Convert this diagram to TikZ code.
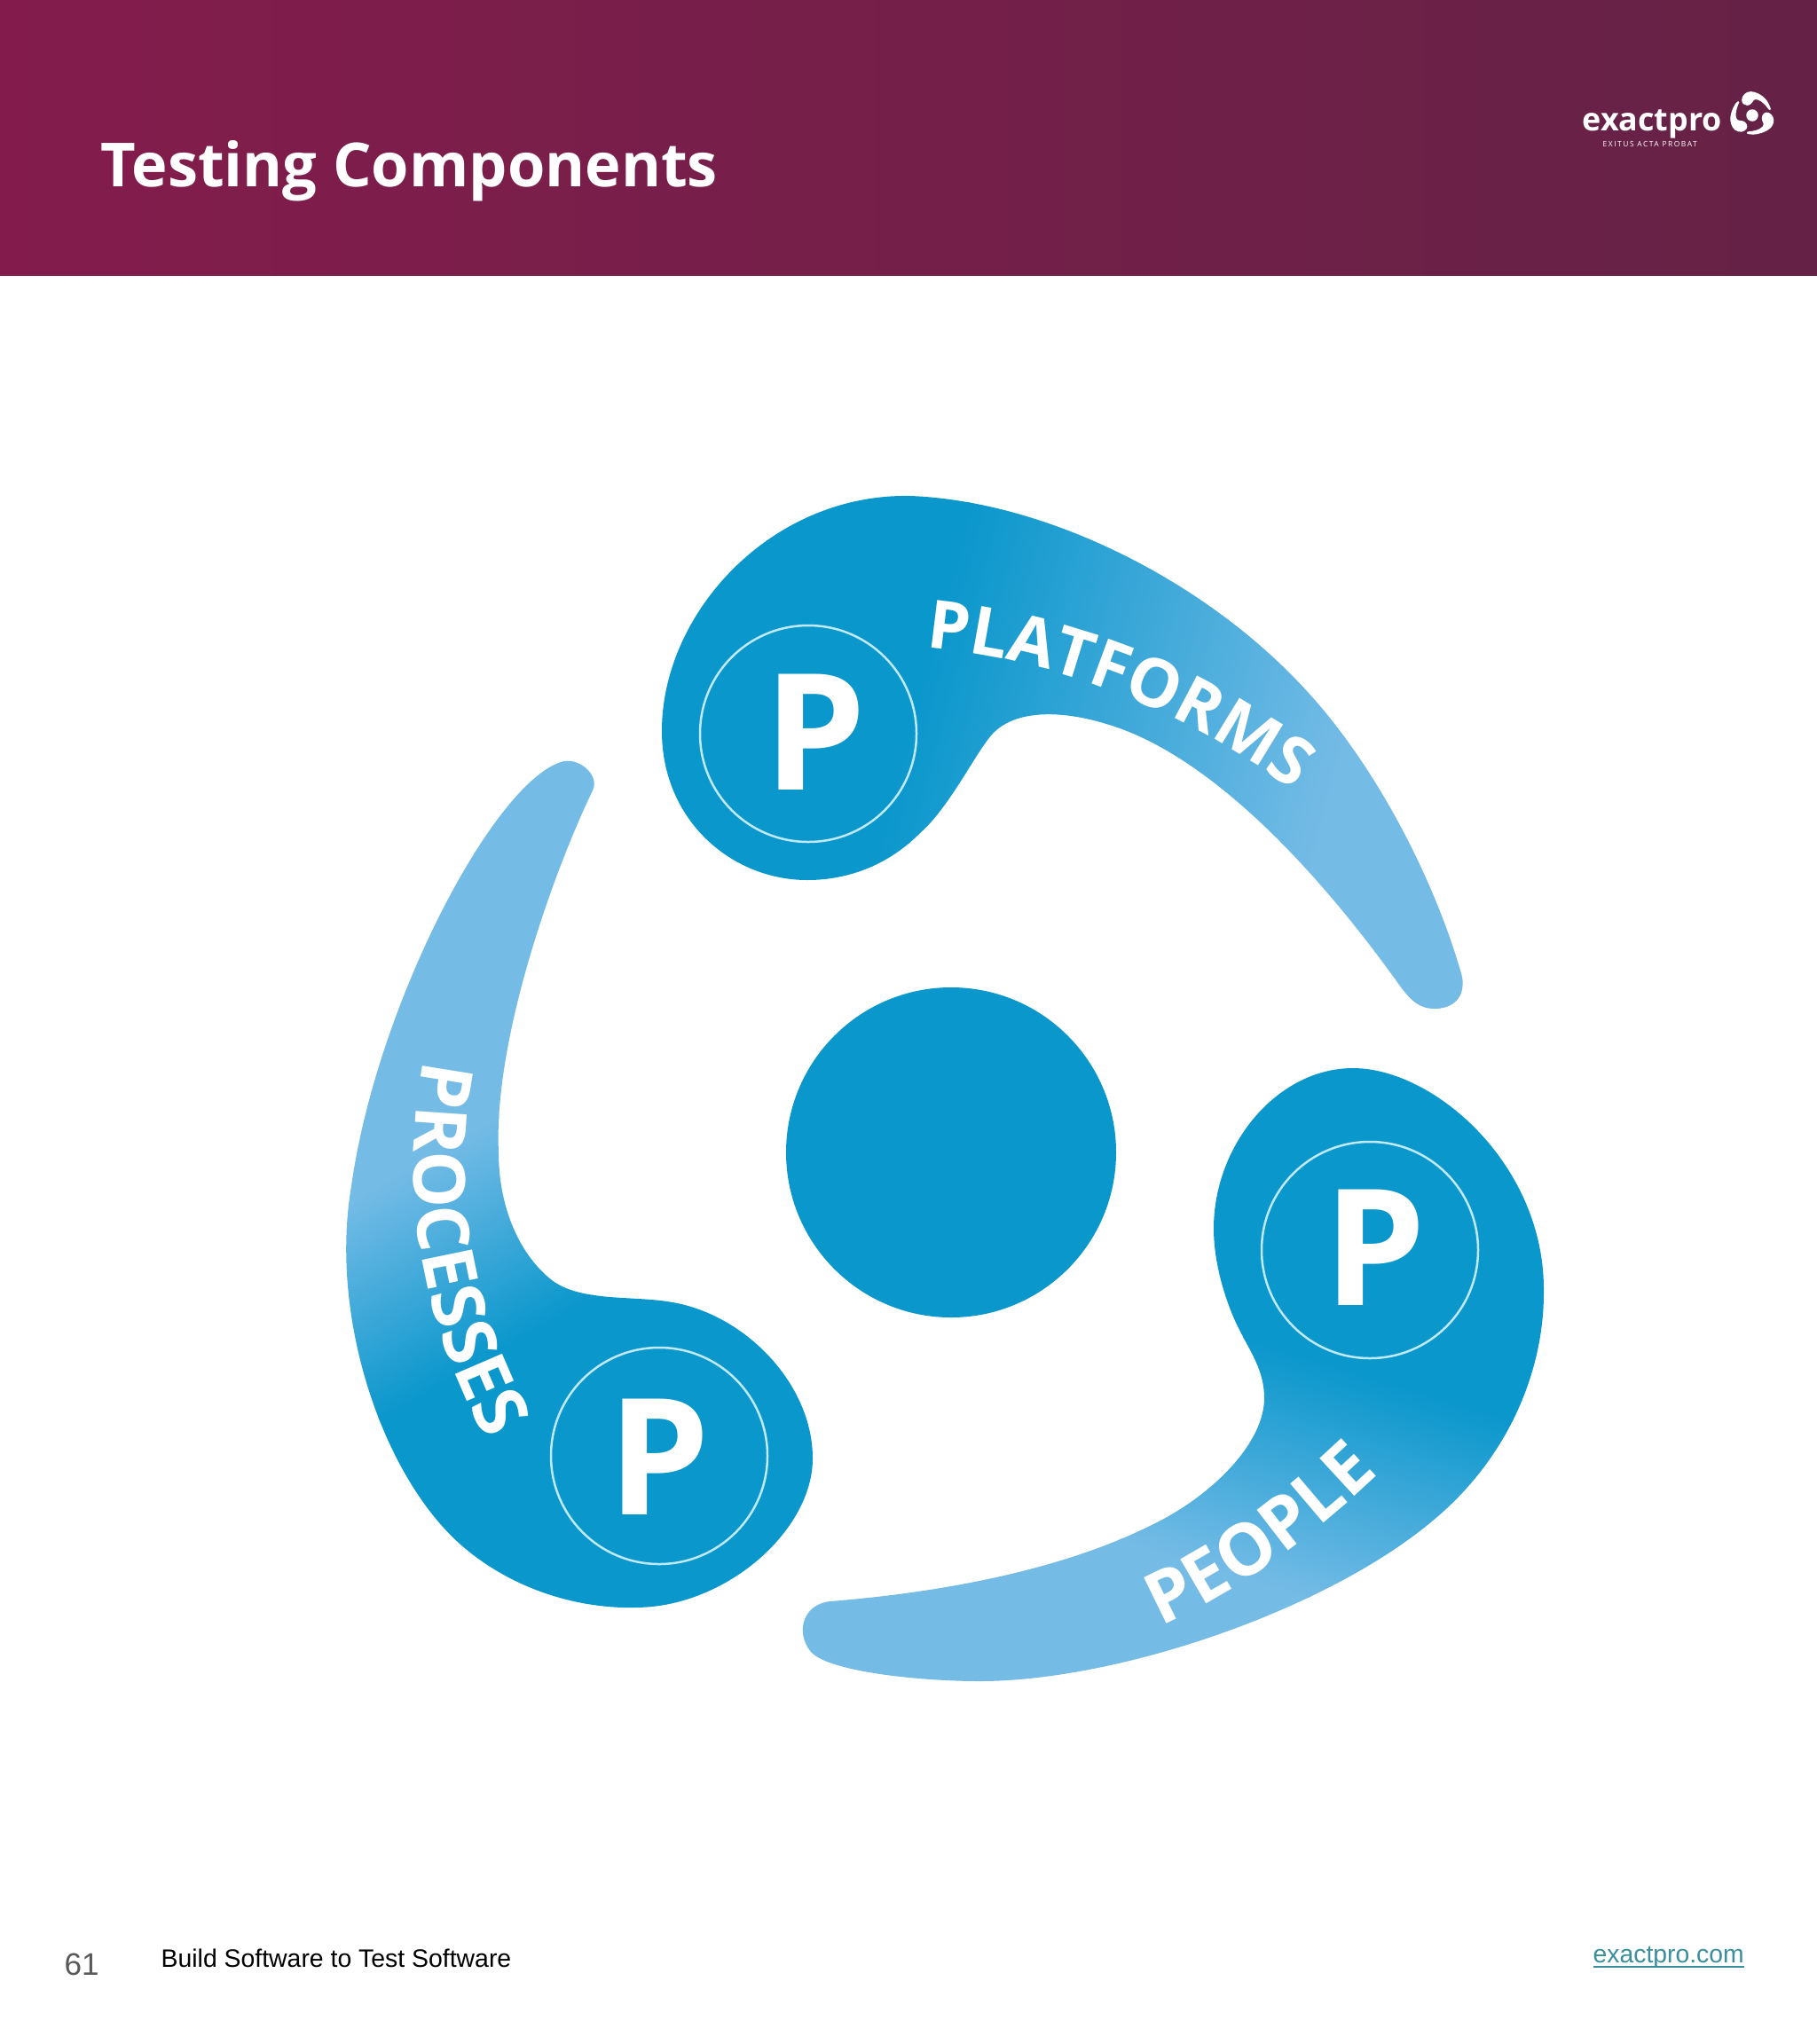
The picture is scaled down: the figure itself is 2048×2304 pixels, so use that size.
\documentclass[tikz,border=0pt]{standalone}
\usepackage{fontspec}
\usetikzlibrary{positioning,decorations.text}
\newfontfamily\headfont{Open Sans}
\newfontfamily\spacedfont[LetterSpace=18]{Open Sans}
\newfontfamily\footfont{Liberation Sans}
\definecolor{bladedark}{HTML}{0A97CC}
\definecolor{bladelight}{HTML}{74BBE6}
\definecolor{ringline}{HTML}{BFE9F6}
\definecolor{headleft}{HTML}{831C4C}
\definecolor{headmid}{HTML}{771D47}
\definecolor{headright}{HTML}{652246}
\definecolor{linkteal}{HTML}{3B8E9E}
\definecolor{pagegrey}{HTML}{595959}
\newcommand{\platpath}{(1026,559) .. controls (1180,565) and (1360,655) .. (1473,779)
  .. controls (1555,868) and (1620,1000) .. (1648,1101)
  .. controls (1652,1125) and (1637,1137) .. (1617,1137)
  .. controls (1600,1137) and (1590,1128) .. (1577,1110)
  .. controls (1495,995) and (1370,852) .. (1247,816)
  .. controls (1195,800) and (1143,800) .. (1118,828)
  .. controls (1100,848) and (1070,910) .. (1038,938)
  .. controls (1005,972) and (960,992) .. (910,992)
  .. controls (825,992) and (746,925) .. (746,824)
  .. controls (746,690) and (870,556) .. (1026,559) -- cycle}
\newcommand{\procpath}{(636,858) .. controls (560,875) and (425,1130) .. (396,1337)
  .. controls (370,1490) and (435,1672) .. (525,1746)
  .. controls (589,1799) and (670,1817) .. (735,1811)
  .. controls (830,1801) and (916,1720) .. (916,1644)
  .. controls (916,1560) and (840,1482) .. (758,1468)
  .. controls (715,1460) and (655,1468) .. (622,1443)
  .. controls (585,1414) and (562,1360) .. (562,1299)
  .. controls (556,1170) and (625,980) .. (668,891)
  .. controls (676,875) and (655,855) .. (636,858) -- cycle}
\newcommand{\peoppath}{(1525,1204) .. controls (1615,1204) and (1738,1310) .. (1740,1450)
  .. controls (1742,1550) and (1695,1648) .. (1615,1714)
  .. controls (1495,1815) and (1260,1895) .. (1104,1895)
  .. controls (1040,1895) and (935,1885) .. (914,1862)
  .. controls (896,1840) and (905,1808) .. (936,1805)
  .. controls (1060,1795) and (1200,1770) .. (1306,1715)
  .. controls (1370,1682) and (1425,1625) .. (1425,1576)
  .. controls (1425,1545) and (1410,1525) .. (1396,1497)
  .. controls (1382,1469) and (1368,1425) .. (1368,1385)
  .. controls (1368,1290) and (1440,1204) .. (1525,1204) -- cycle}
\newcommand{\bladefont}{\color{white}\headfont\bfseries\fontsize{21.5}{25}\selectfont}
\newcommand{\widebladefont}{\color{white}\headfont\bfseries\fontsize{23}{27}\selectfont}

\begin{document}
\begin{tikzpicture}[x=0.1mm, y=-0.1mm,
                    ring/.style = {circle, draw=ringline, line width=0.25mm, minimum size=24.4mm, inner sep=0pt},
                    bigp/.style = {inner sep=0pt, text=white, font=\headfont\bfseries\fontsize{52}{60}\selectfont},
                    foot/.style = {inner sep=0pt, anchor=base west}]
\useasboundingbox (0,0) rectangle (2048,2304);
\fill[white] (0,0) rectangle (2048,2304);
\shade[left color=headleft, middle color=headmid, right color=headright] (0,0) rectangle (2048,310);

\foreach \bladepath/\cx/\cy/\ang/\hw in {\platpath/1280/790/-15/240, \procpath/500/1427/120/115, \peoppath/1500/1673/253/130} {
  \begin{scope}
    \clip \bladepath;
    \begin{scope}[transform canvas={shift={(\cx,\cy)}, rotate=\ang}]
      \fill[bladedark] (-2000,-2000) rectangle (-\hw+3,2000);
      \fill[bladelight] (\hw-3,-2000) rectangle (2000,2000);
      \shade[left color=bladedark, right color=bladelight] (-\hw,-2000) rectangle (\hw,2000);
    \end{scope}
  \end{scope}
}
\node[circle, fill=bladedark, minimum size=37.2mm, inner sep=0pt] (hub) at (1072,1299) {};

\node[ring] (ringplat) at (911,827) {};
\node[ring] (ringproc) at (743,1641) {};
\node[ring] (ringpeop) at (1544,1409) {};
\node[bigp] (pplat) at (919,825) {P};
\node[bigp] (pproc) at (743,1642) {P};
\node[bigp] (ppeop) at (1550,1406) {P};

\path[decorate, decoration={text along path, text={|\bladefont|PLATFORMS}}] (1043,730) .. controls (1200,745) and (1340,800) .. (1490,915);
\path[decorate, decoration={text along path, text={|\widebladefont|PROCESSES}}] (478,1195) .. controls (450,1330) and (468,1495) .. (570,1660);
\path[decorate, decoration={text along path, text={|\widebladefont|PEOPLE}}] (1308,1833) .. controls (1395,1795) and (1495,1725) .. (1595,1620);

\node[inner sep=0pt, anchor=base west, text=white, font=\headfont\bfseries\fontsize{19.5}{24}\selectfont] (title) at (113,210) {Testing Components};
\node[inner sep=0pt, anchor=base west, text=white, font=\headfont\bfseries\fontsize{10.2}{12}\selectfont] (logotext) at (1783,147) {exactpro};
\node[inner sep=0pt, anchor=base west, text=white, font=\spacedfont\fontsize{2.4}{3}\selectfont] (motto) at (1806,165) {EXITUS ACTA PROBAT};
\begin{scope}[shift={(1975,130)}, scale=0.0363, shift={(-1072,-1299)}]
  \fill[white] \platpath;
  \fill[white] \procpath;
  \fill[white] \peoppath;
  \fill[white] (1072,1299) circle (186);
\end{scope}

\node[foot, text=pagegrey, font=\footfont\fontsize{10}{12}\selectfont] (pagenum) at (72,2226) {61};
\node[foot, text=black, font=\footfont\fontsize{8.08}{10}\selectfont] (tagline) at (181,2217) {Build Software to Test Software};
\node[foot, text=linkteal, font=\footfont\fontsize{8.06}{10}\selectfont] (weblink) at (1795,2212) {\underline{\smash{exactpro.com}}};
\end{tikzpicture}
\end{document}
